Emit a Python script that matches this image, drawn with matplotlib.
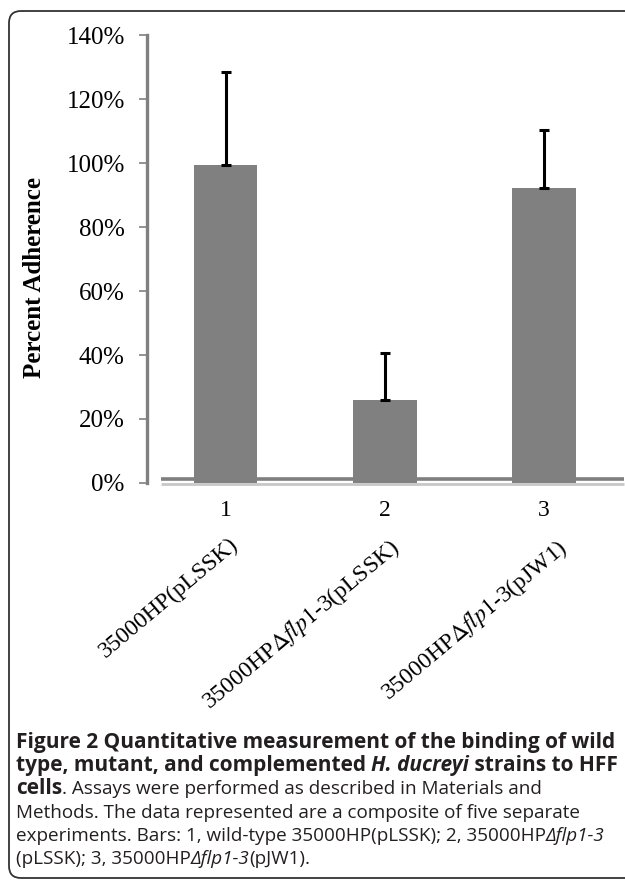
import numpy as np
import matplotlib
matplotlib.use('Agg')
import matplotlib.pyplot as plt
from matplotlib.patches import FancyBboxPatch
from matplotlib import transforms

# data
positions = [0, 1, 2]
tick_numbers = ['1', '2', '3']
strain_labels = ['35000HP(pLSSK)',
                 r'35000HP$\mathit{\Delta flp1}$-3(pLSSK)',
                 r'35000HP$\Delta\mathit{flp1}$-3(pJW1)']
adherence = [99.5, 26.0, 92.2]      # percent
err_up = [29.0, 14.6, 18.1]         # upper error only
y_ticks = [0, 20, 40, 60, 80, 100, 120, 140]

W, H = 625, 881
fig = plt.figure(figsize=(W / 100, H / 100), dpi=100)

# background layer in pixel coordinates (frame + caption)
bg = fig.add_axes([0, 0, 1, 1], zorder=0)
bg.set_xlim(0, W)
bg.set_ylim(H, 0)
bg.axis('off')
frame = FancyBboxPatch((9, 11), 700, 867, boxstyle='round,pad=0,rounding_size=12',
                       fc='none', ec='#333333', lw=1.3)
bg.add_patch(frame)

ax = fig.add_axes([147 / W, 1 - 483 / H, 476 / W, (483 - 35) / H], zorder=1)
ax.patch.set_alpha(0)

serif = 'Liberation Serif'
bar_color = '#808080'

# baseline band (dark line with a light shadow under it)
ax.plot([-0.405, 2.50], [1.3, 1.3], color='#7f7f7f', lw=2.6, zorder=1,
        solid_capstyle='butt', clip_on=False)
ax.plot([-0.405, 2.50], [-0.2, -0.2], color='#c8c8c8', lw=2.0, zorder=1,
        solid_capstyle='butt', clip_on=False)

ax.bar(positions, adherence, width=0.40, color=bar_color, zorder=2, clip_on=False)
ax.errorbar(positions, adherence, yerr=[[0, 0, 0], err_up], fmt='none',
            ecolor='black', elinewidth=2.2, capsize=3.6, capthick=2.2, zorder=3)

ax.set_xlim(-0.493, 2.495)
ax.set_ylim(0, 140)
ax.set_yticks(y_ticks)
ax.set_yticklabels([f'{v}%' for v in y_ticks], fontsize=18, family=serif)
ax.set_xticks(positions)
ax.set_xticklabels(tick_numbers, fontsize=17, family=serif)
ax.tick_params(axis='x', length=0, pad=12)
ax.tick_params(axis='y', length=6, width=1.2, color='#808080', pad=10)
for s in ['top', 'right', 'bottom']:
    ax.spines[s].set_visible(False)
ax.spines['left'].set_color('#808080')
ax.spines['left'].set_linewidth(2.4)

# rotated strain labels
trans = transforms.blended_transform_factory(ax.transData, bg.transData)
label_shift = [0.02, 0.02, 0.07]
for p, lab, dx in zip(positions, strain_labels, label_shift):
    ax.text(p + dx, 534, lab, transform=trans, rotation=40, ha='right', va='top',
            rotation_mode='anchor', fontsize=17, family=serif, math_fontfamily='stix')

fig.text(35 / W, 1 - 277 / H, 'Percent Adherence', rotation=90, ha='center', va='center',
         fontsize=18, fontweight='bold', family=serif)

# caption, drawn piece by piece so bold / italic can be mixed
renderer = fig.canvas.get_renderer()


def advance(s, **kw):
    t = bg.text(0, 0, s + '|', **kw)
    w1 = t.get_window_extent(renderer=renderer).width
    t.remove()
    t = bg.text(0, 0, '|', **kw)
    w2 = t.get_window_extent(renderer=renderer).width
    t.remove()
    return w1 - w2


bold_size = 15.0
reg_size = 13.6
caption = [
    [('Figure 2 Quantitative measurement of the binding of wild', 'bold', 'normal')],
    [('type, mutant, and complemented ', 'bold', 'normal'), ('H. ducreyi', 'bold', 'italic'),
     (' strains to HFF', 'bold', 'normal')],
    [('cells', 'bold', 'normal'), ('. Assays were performed as described in Materials and', 'normal', 'normal')],
    [('Methods. The data represented are a composite of five separate', 'normal', 'normal')],
    [('experiments. Bars: 1, wild-type 35000HP(pLSSK); 2, 35000HP', 'normal', 'normal'),
     ('\u0394flp1-3', 'normal', 'italic')],
    [('(pLSSK); 3, 35000HP', 'normal', 'normal'), ('\u0394flp1-3', 'normal', 'italic'),
     ('(pJW1).', 'normal', 'normal')],
]
y0 = 748
for i, line in enumerate(caption):
    x = 16
    for s, w, st in line:
        size = bold_size if w == 'bold' else reg_size
        kw = dict(fontsize=size, fontweight=w, fontstyle=st, family='Open Sans',
                  color='#231f20', va='baseline', ha='left')
        bg.text(x, y0 + i * 23.2, s, **kw)
        x += advance(s, **kw)

fig.savefig('out.png', dpi=100)
